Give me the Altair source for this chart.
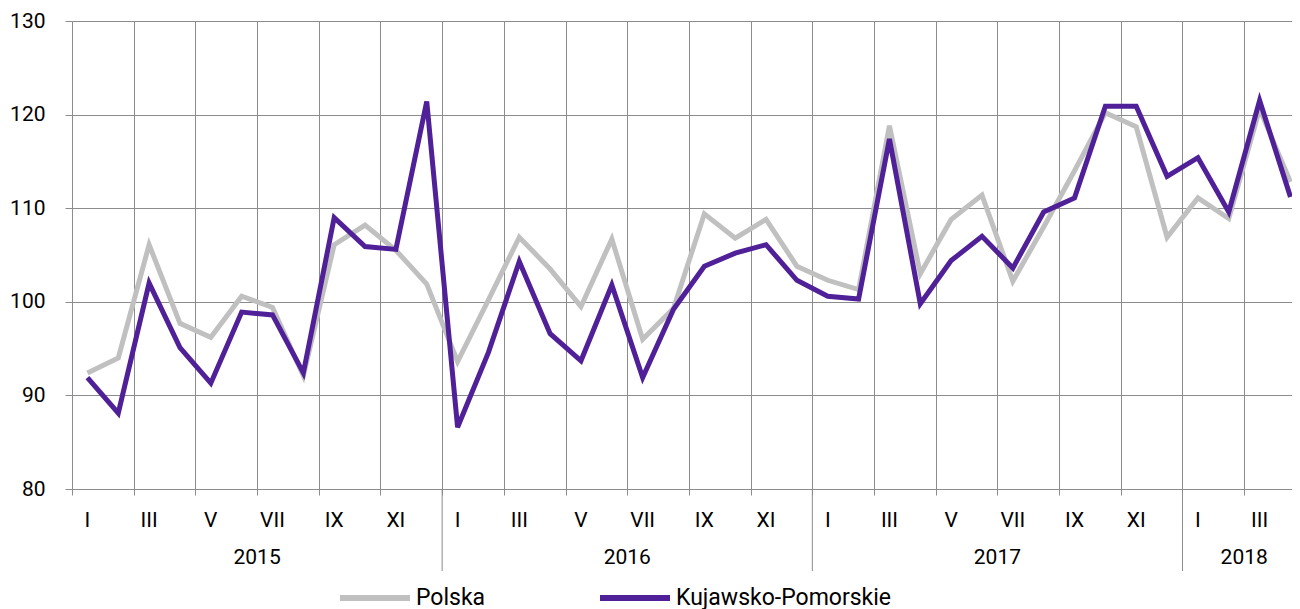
import altair as alt
import pandas as pd

# ---- data ----
years = [2015, 2016, 2017, 2018]
months_per_year = [12, 12, 12, 4]
roman = ["I", "II", "III", "IV", "V", "VI", "VII", "VIII", "IX", "X", "XI", "XII"]
shown_months = ["I", "III", "V", "VII", "IX", "XI"]
series_names = ["Polska", "Kujawsko-Pomorskie"]
series_colors = ["#c0c0c0", "#4f2098"]

polska = [
    92.4, 94.0, 106.1, 97.7, 96.2, 100.6, 99.4, 92.1, 106.1, 108.2, 105.5, 101.9,
    93.6, 100.2, 106.9, 103.5, 99.5, 106.7, 96.0, 99.3, 109.4, 106.8, 108.8, 103.8,
    102.3, 101.3, 118.8, 103.0, 108.8, 111.4, 102.2, 108.0, 114.0, 120.2, 118.7, 106.9,
    111.1, 108.9, 120.6, 112.8,
]
kujawsko = [
    91.9, 88.1, 102.0, 95.1, 91.3, 98.9, 98.6, 92.4, 109.0, 105.9, 105.6, 121.4,
    86.6, 94.6, 104.3, 96.6, 93.7, 101.8, 91.9, 99.2, 103.8, 105.2, 106.1, 102.3,
    100.6, 100.3, 117.4, 99.8, 104.4, 107.0, 103.6, 109.6, 111.1, 120.9, 120.9, 113.4,
    115.4, 109.6, 121.5, 111.2,
]

# ---- build tables ----
rows, month_rows, year_rows, sep_rows = [], [], [], []
idx = 0
for y, n in zip(years, months_per_year):
    start = idx
    for m in range(n):
        rows.append({"idx": idx, "series": series_names[0], "value": polska[idx]})
        rows.append({"idx": idx, "series": series_names[1], "value": kujawsko[idx]})
        if roman[m] in shown_months:
            month_rows.append({"idx": idx, "label": roman[m]})
        idx += 1
    year_rows.append({"idx": (start + idx - 1) / 2, "label": str(y)})
    if idx < len(polska):
        sep_rows.append({"idx": idx - 0.5})

df = pd.DataFrame(rows)
months_df = pd.DataFrame(month_rows)
years_df = pd.DataFrame(year_rows)
seps_df = pd.DataFrame(sep_rows)

W, H = 1220, 468
FONT = "Roboto"
GRID = "#8c8c8c"

xscale = alt.Scale(domain=[-0.5, 39.05], nice=False, zero=False)
yscale = alt.Scale(domain=[80, 130], nice=False, zero=False)
color = alt.Color(
    "series:N",
    scale=alt.Scale(domain=series_names, range=series_colors),
    legend=alt.Legend(
        title=None, orient="none", direction="horizontal",
        legendX=265, legendY=539,
        symbolType="stroke", symbolSize=4900, symbolStrokeWidth=6,
        labelFontSize=23, labelFont=FONT, labelColor="#000000",
        labelLimit=400, columnPadding=102, labelOffset=3,
    ),
)

x_enc = alt.X(
    "idx:Q", scale=xscale,
    axis=alt.Axis(
        values=[i - 0.5 for i in range(41)], labels=False, grid=True,
        gridColor=GRID, gridOpacity=1, gridWidth=1,
        ticks=True, tickSize=6, tickColor=GRID, domain=False, title=None,
    ),
)
y_enc = alt.Y(
    "value:Q", scale=yscale,
    axis=alt.Axis(
        values=[80, 90, 100, 110, 120, 130], grid=True,
        gridColor=GRID, gridOpacity=1, gridWidth=1,
        ticks=True, tickSize=7, tickColor=GRID, domain=False, title=None,
        labelFontSize=21, labelFont=FONT, labelColor="#000000", labelPadding=20,
    ),
)

line_p = alt.Chart(df).transform_filter(
    alt.datum.series == series_names[0]
).mark_line(strokeWidth=5, strokeJoin="miter").encode(x=x_enc, y=y_enc, color=color)

line_k = alt.Chart(df).transform_filter(
    alt.datum.series == series_names[1]
).mark_line(strokeWidth=5, strokeJoin="miter").encode(x=x_enc, y=y_enc, color=color)

month_text = alt.Chart(months_df).mark_text(
    font=FONT, fontSize=21, color="#000000", baseline="middle", align="center"
).encode(x=alt.X("idx:Q", scale=xscale), y=alt.value(H + 32), text="label:N")

year_text = alt.Chart(years_df).mark_text(
    font=FONT, fontSize=21, color="#000000", baseline="middle", align="center"
).encode(x=alt.X("idx:Q", scale=xscale), y=alt.value(H + 69), text="label:N")

seps = alt.Chart(seps_df).mark_rule(color=GRID, strokeWidth=1).encode(
    x=alt.X("idx:Q", scale=xscale), y=alt.value(H), y2=alt.value(H + 82)
)

chart = alt.layer(line_p, line_k, month_text, year_text, seps).properties(
    width=W, height=H,
    autosize=alt.AutoSizeParams(type="none"),
    padding={"left": 64, "top": 13, "right": 0, "bottom": 120},
).configure_view(stroke=None).configure(background="#ffffff")

chart.save("out.html", embed_options={"renderer": "svg", "actions": False})
